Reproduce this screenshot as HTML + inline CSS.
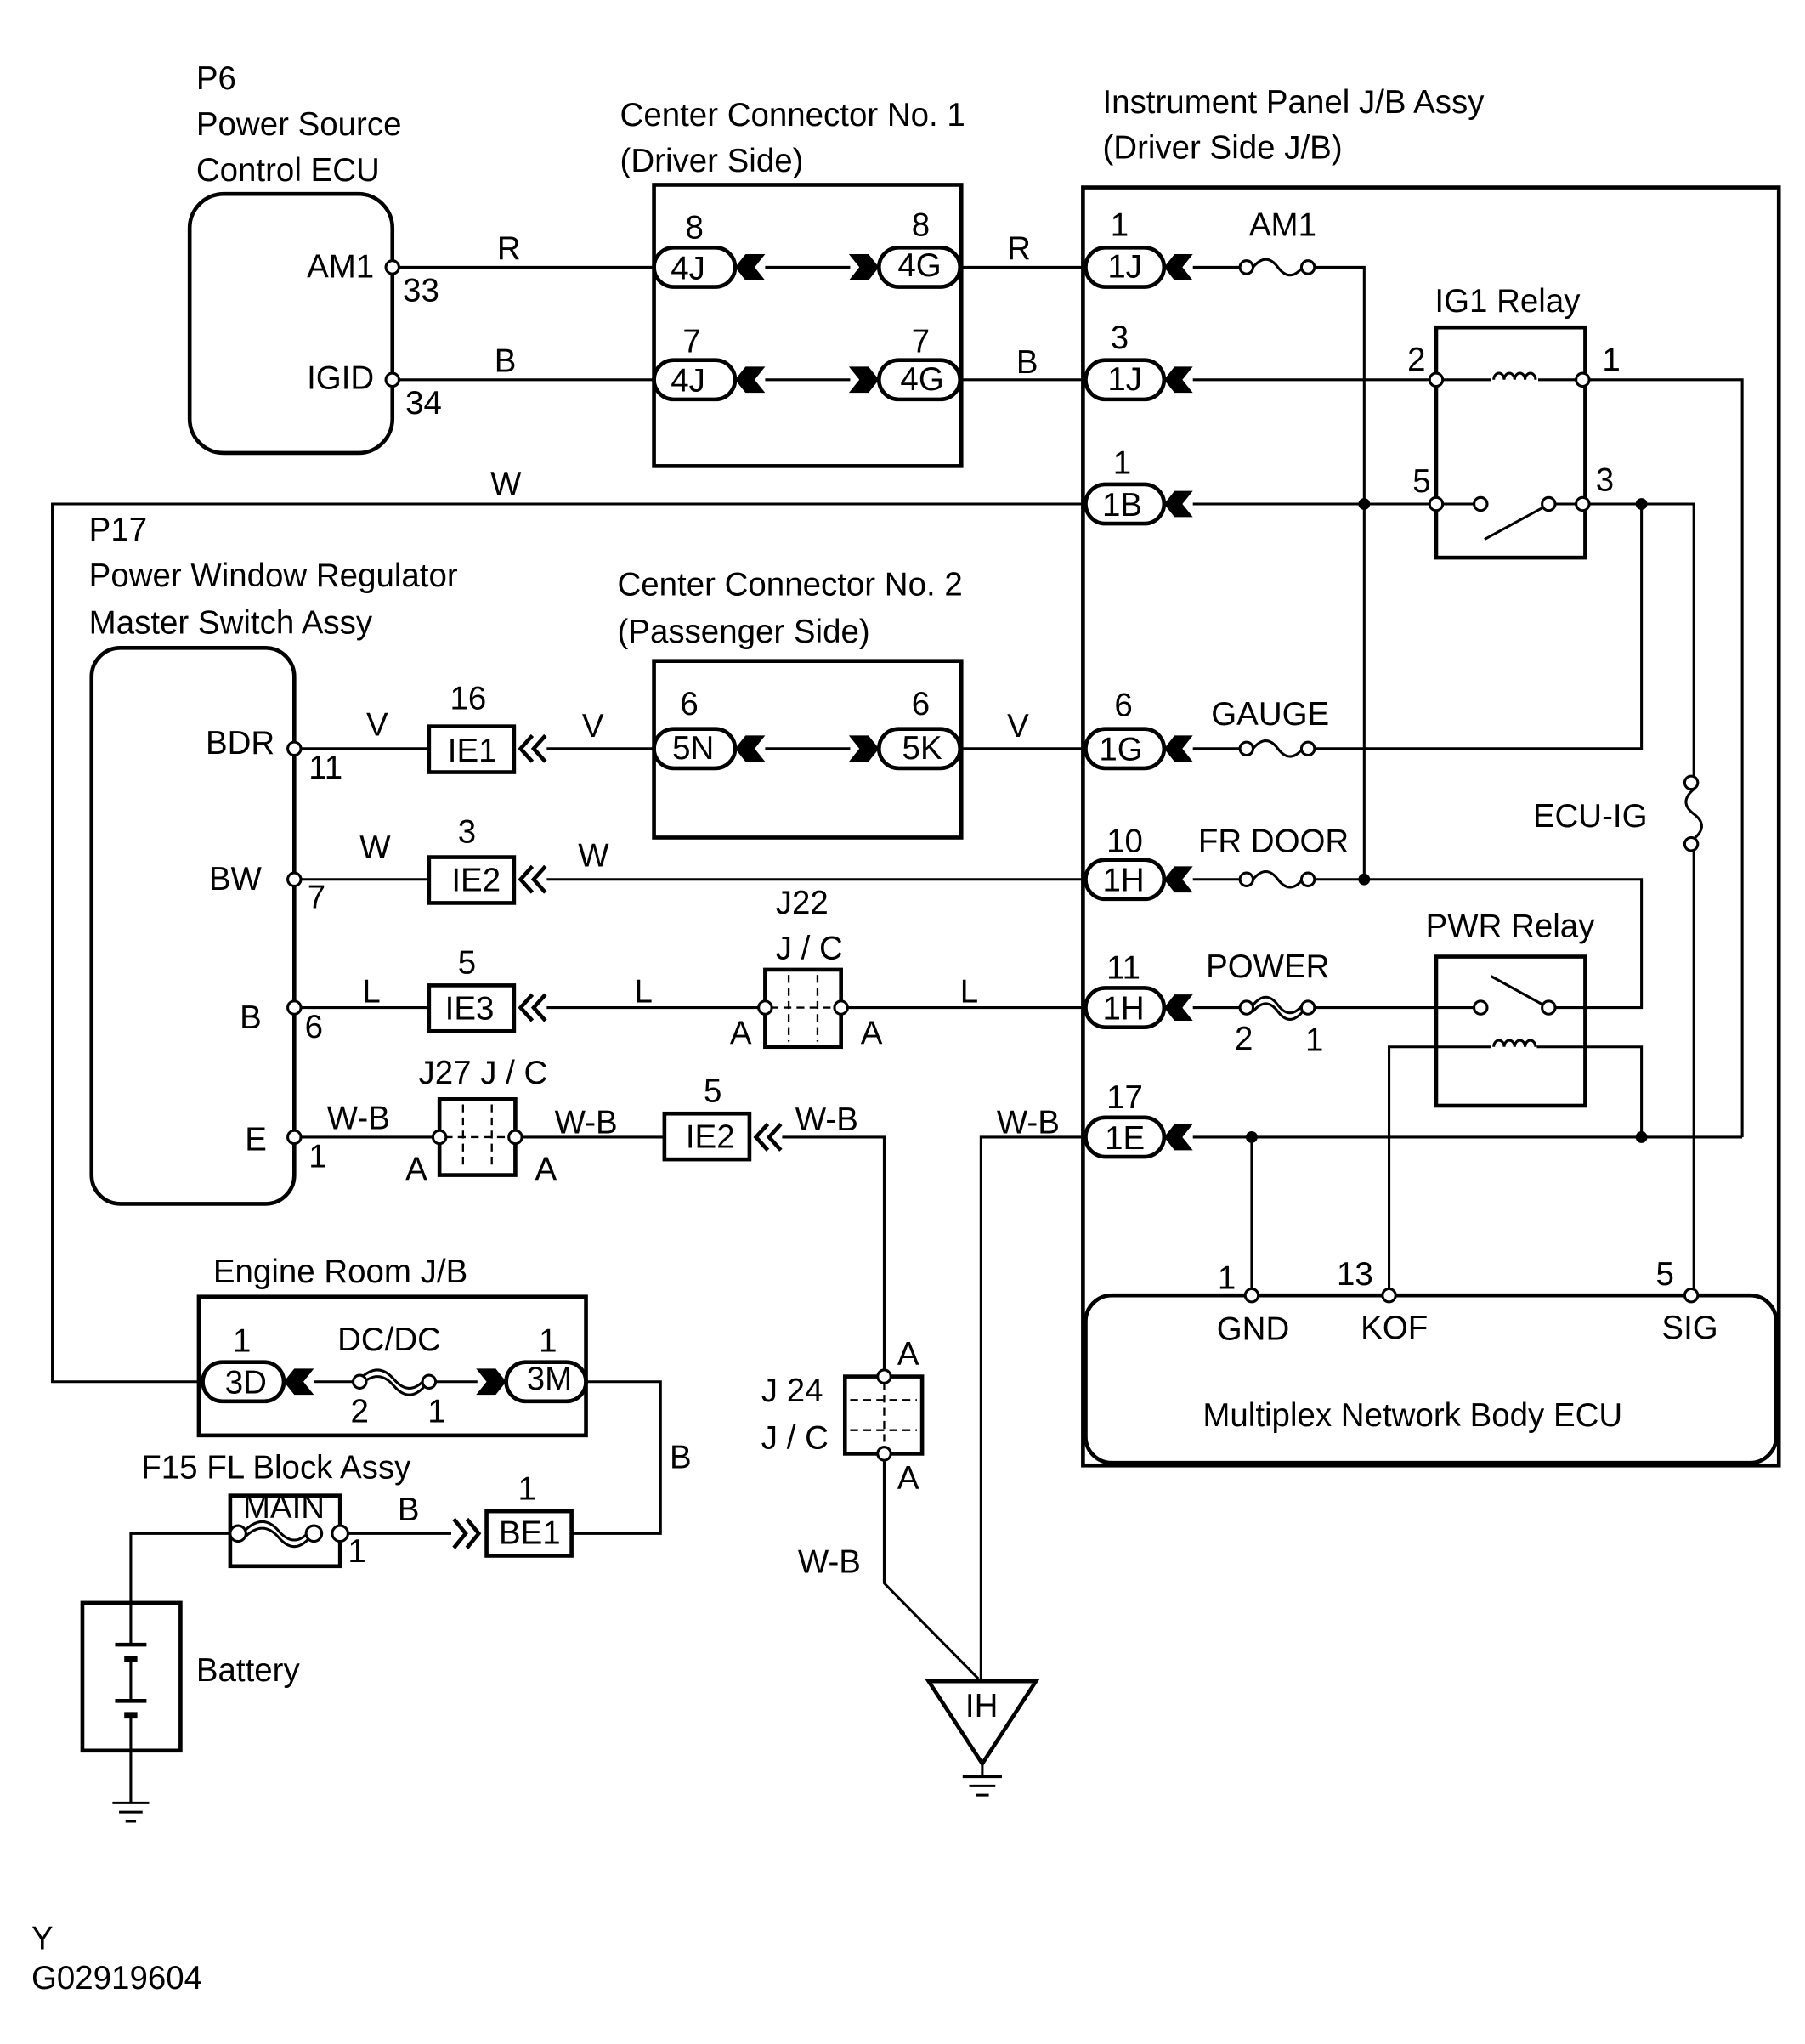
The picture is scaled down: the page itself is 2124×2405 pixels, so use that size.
<!DOCTYPE html>
<html><head><meta charset="utf-8"><style>
html,body{margin:0;padding:0;background:#fff;}
svg{display:block;}
text{font-family:"Liberation Sans",sans-serif;font-size:25px;fill:#000;}
.w{stroke:#000;stroke-width:2;fill:none;}
.b{stroke:#000;stroke-width:3;fill:none;}
.p{fill:#fff;stroke:#000;stroke-width:2;}
.f{fill:#000;stroke:none;}
.c{text-anchor:middle;}
.r{text-anchor:end;}
</style></head><body>
<svg width="2124" height="2405" viewBox="0 0 1380 1562" xmlns="http://www.w3.org/2000/svg">
<!-- P6 -->
<text x="150" y="68">P6</text><text x="150" y="103">Power Source</text><text x="150" y="138">Control ECU</text>
<rect x="145" y="148" width="155" height="198" rx="26" class="b"/>
<text x="286" y="212" class="r">AM1</text><text x="308" y="230">33</text>
<text x="286" y="297" class="r">IGID</text><text x="310" y="316">34</text>
<path class="w" d="M305,204H500M305,290H500"/>
<circle cx="300" cy="204" r="5" class="p"/><circle cx="300" cy="290" r="5" class="p"/>
<text x="380" y="198">R</text><text x="378" y="284">B</text>

<!-- CC1 -->
<text x="474" y="96">Center Connector No. 1</text><text x="474" y="131">(Driver Side)</text>
<rect x="500" y="141" width="235" height="215" class="b"/>
<path class="w" d="M585,204H650M585,290H650M735,204H830M735,290H830M735,572H830"/>
<text x="770" y="198">R</text><text x="777" y="285">B</text>

<!-- IP J/B -->
<text x="843" y="86">Instrument Panel J/B Assy</text><text x="843" y="121">(Driver Side J/B)</text>
<rect x="828" y="143" width="532" height="977" class="b"/>

<!-- wires in JB -->
<path class="w" d="M912,204H948M1005,204H1043V672"/>
<path class="w" d="M912,290H1098M1210,290H1332V869"/>
<path class="w" d="M155,1056H40V385H830M912,385H1098M1210,385H1295V598M1295,645V985"/>
<path class="w" d="M1255,385V572H1005M912,572H948"/>
<path class="w" d="M912,672H948M1005,672H1255V770H1184"/>
<path class="w" d="M912,770H948M1005,770H1127"/>
<path class="w" d="M830,869H750V1285M912,869H1332M957,869V985M1255,869V800H1175M1140,800H1062V985"/>
<circle cx="1043" cy="385" r="4.5" class="f"/><circle cx="1043" cy="672" r="4.5" class="f"/>
<circle cx="1255" cy="385" r="4.5" class="f"/><circle cx="957" cy="869" r="4.5" class="f"/><circle cx="1255" cy="869" r="4.5" class="f"/>

<!-- fuses -->
<g class="w">
<path d="M958,204q10,-12 19,0t19,0"/><path d="M958,572q10,-12 19,0t19,0"/><path d="M958,672q10,-12 19,0t19,0"/>
<path d="M958,768q10,-12 19,0t19,0M958,773q10,-12 19,0t19,0" stroke-width="2"/>
<path d="M1295,603q-12,10 0,19t0,19"/>
<path d="M275,1054q14,-14 26,0t24,0M275,1059q14,-14 26,0t24,0"/>
<path d="M187,1170q14,-14 26,0t24,0M187,1175q14,-14 26,0t24,0"/>
</g>
<g class="p">
<circle cx="953" cy="204" r="5"/><circle cx="1000" cy="204" r="5"/>
<circle cx="953" cy="572" r="5"/><circle cx="1000" cy="572" r="5"/>
<circle cx="953" cy="672" r="5"/><circle cx="1000" cy="672" r="5"/>
<circle cx="953" cy="770" r="5"/><circle cx="1000" cy="770" r="5"/>
<circle cx="1293" cy="598" r="5"/><circle cx="1293" cy="645" r="5"/>
</g>
<text x="955" y="180">AM1</text><text x="926" y="554">GAUGE</text><text x="916" y="651">FR DOOR</text><text x="922" y="747">POWER</text>
<text x="944" y="802" font-size="22">2</text><text x="998" y="803">1</text>
<text x="1172" y="632">ECU-IG</text>

<!-- IG1 relay -->
<text x="1097" y="238">IG1 Relay</text>
<rect x="1098" y="250" width="114" height="176" class="b"/>
<path class="w" d="M1098,290H1140M1176,290H1210M1098,385H1127M1189,385H1210M1135,412L1181,387"/>
<path class="w" d="M1142,290a4,5 0 1 1 8,0a4,5 0 1 1 8,0a4,5 0 1 1 8,0a4,5 0 1 1 8,0"/>
<g class="p"><circle cx="1098" cy="290" r="5"/><circle cx="1210" cy="290" r="5"/><circle cx="1098" cy="385" r="5"/><circle cx="1210" cy="385" r="5"/><circle cx="1132" cy="385" r="5"/><circle cx="1184" cy="385" r="5"/></g>
<text x="1076" y="283">2</text><text x="1225" y="283">1</text><text x="1080" y="376">5</text><text x="1220" y="375">3</text>

<!-- PWR relay -->
<text x="1090" y="716">PWR Relay</text>
<rect x="1098" y="731" width="114" height="114" class="b"/>
<path class="w" d="M1140,746L1180,768"/>
<path class="w" d="M1142,800a4,5 0 1 1 8,0a4,5 0 1 1 8,0a4,5 0 1 1 8,0a4,5 0 1 1 8,0"/>
<g class="p"><circle cx="1132" cy="770" r="5"/><circle cx="1184" cy="770" r="5"/></g>

<!-- ECU -->
<rect x="830" y="990" width="528" height="128" rx="20" class="b"/>
<g class="p"><circle cx="957" cy="990" r="5"/><circle cx="1062" cy="990" r="5"/><circle cx="1293" cy="990" r="5"/></g>
<text x="931" y="985">1</text><text x="1022" y="982">13</text><text x="1266" y="982">5</text>
<text x="958" y="1024" font-size="22" class="c">GND</text><text x="1066" y="1023" font-size="22" class="c">KOF</text><text x="1292" y="1023" font-size="22" class="c">SIG</text>
<text x="1080" y="1090" class="c">Multiplex Network Body ECU</text>

<!-- pills + chevrons -->
<g>
<rect x="500" y="189" width="62" height="30" rx="15" class="b"/><text x="526" y="213" class="c">4J</text>
<rect x="500" y="275" width="62" height="30" rx="15" class="b"/><text x="526" y="299" class="c">4J</text>
<rect x="672" y="189" width="62" height="30" rx="15" class="b"/><text x="703" y="211" class="c">4G</text>
<rect x="672" y="275" width="62" height="30" rx="15" class="b"/><text x="705" y="298" class="c">4G</text>
<rect x="500" y="557" width="62" height="30" rx="15" class="b"/><text x="530" y="580" class="c">5N</text>
<rect x="672" y="557" width="62" height="30" rx="15" class="b"/><text x="705" y="580" class="c">5K</text>
<rect x="830" y="189" width="60" height="30" rx="15" class="b"/><text x="860" y="212" class="c">1J</text>
<rect x="830" y="275" width="60" height="30" rx="15" class="b"/><text x="860" y="298" class="c">1J</text>
<rect x="830" y="370" width="60" height="30" rx="15" class="b"/><text x="858" y="394" class="c">1B</text>
<rect x="830" y="557" width="60" height="30" rx="15" class="b"/><text x="857" y="581" class="c">1G</text>
<rect x="830" y="657" width="60" height="30" rx="15" class="b"/><text x="859" y="681" class="c">1H</text>
<rect x="830" y="755" width="60" height="30" rx="15" class="b"/><text x="859" y="779" class="c">1H</text>
<rect x="830" y="854" width="60" height="30" rx="15" class="b"/><text x="860" y="878" class="c">1E</text>
<rect x="155" y="1041" width="62" height="30" rx="15" class="b"/><text x="188" y="1065" class="c">3D</text>
<rect x="387" y="1041" width="61" height="30" rx="15" class="b"/><text x="420" y="1062" class="c">3M</text>
</g>
<g class="f">
<polygon points="562,204 570,194 585,194 577,204 585,214 570,214"/>
<polygon points="562,290 570,280 585,280 577,290 585,300 570,300"/>
<polygon points="672,204 664,194 649,194 657,204 649,214 664,214"/>
<polygon points="672,290 664,280 649,280 657,290 649,300 664,300"/>
<polygon points="562,572 570,562 585,562 577,572 585,582 570,582"/>
<polygon points="672,572 664,562 649,562 657,572 649,582 664,582"/>
<polygon points="890,204 898,194 912,194 904,204 912,214 898,214"/>
<polygon points="890,290 898,280 912,280 904,290 912,300 898,300"/>
<polygon points="890,385 898,375 912,375 904,385 912,395 898,395"/>
<polygon points="890,572 898,562 912,562 904,572 912,582 898,582"/>
<polygon points="890,672 898,662 912,662 904,672 912,682 898,682"/>
<polygon points="890,770 898,760 912,760 904,770 912,780 898,780"/>
<polygon points="890,869 898,859 912,859 904,869 912,879 898,879"/>
<polygon points="217,1056 225,1046 240,1046 232,1056 240,1066 225,1066"/>
<polygon points="387,1056 379,1046 364,1046 372,1056 364,1066 379,1066"/>
</g>
<path class="w" d="M585,572H650M240,1056H270M330,1056H365"/>
<text x="524" y="182">8</text><text x="697" y="180">8</text><text x="522" y="269">7</text><text x="697" y="269">7</text>
<text x="520" y="546">6</text><text x="697" y="546">6</text>
<text x="849" y="180">1</text><text x="849" y="266">3</text><text x="851" y="362">1</text><text x="852" y="547">6</text>
<text x="846" y="651">10</text><text x="846" y="748">11</text><text x="846" y="847">17</text>
<text x="178" y="1033" font-size="22">1</text><text x="412" y="1033">1</text>

<!-- CC2 -->
<text x="472" y="455">Center Connector No. 2</text><text x="472" y="491">(Passenger Side)</text>
<rect x="500" y="505" width="235" height="135" class="b"/>

<!-- P17 -->
<text x="68" y="413">P17</text><text x="68" y="448">Power Window Regulator</text><text x="68" y="484">Master Switch Assy</text>
<rect x="70" y="495" width="155" height="425" rx="22" class="b"/>
<text x="210" y="576" class="r">BDR</text><text x="200" y="680" class="r">BW</text><text x="200" y="786" class="r">B</text><text x="204" y="879" class="r">E</text>
<text x="236" y="595">11</text><text x="235" y="694">7</text><text x="233" y="793">6</text><text x="236" y="892">1</text>
<path class="w" d="M230,572H328M230,672H328M230,770H328M230,869H336"/>
<g class="p"><circle cx="225" cy="572" r="5"/><circle cx="225" cy="672" r="5"/><circle cx="225" cy="770" r="5"/><circle cx="225" cy="869" r="5"/></g>
<text x="280" y="562">V</text><text x="275" y="656">W</text><text x="277" y="766">L</text><text x="250" y="863">W-B</text>
<g class="b">
<rect x="328" y="555" width="65" height="35"/><rect x="328" y="655" width="65" height="35"/><rect x="328" y="753" width="65" height="35"/>
<rect x="508" y="851" width="65" height="35"/><rect x="372" y="1155" width="65" height="34"/>
</g>
<text x="361" y="582" class="c">IE1</text><text x="364" y="681" class="c">IE2</text><text x="359" y="779" class="c">IE3</text><text x="543" y="877" class="c">IE2</text><text x="405" y="1180" class="c">BE1</text>
<text x="344" y="542">16</text><text x="350" y="644">3</text><text x="350" y="744">5</text><text x="538" y="842">5</text><text x="396" y="1146">1</text>
<g class="b">
<path d="M407,562L398,572L407,582M417,562L408,572L417,582"/>
<path d="M407,662L398,672L407,682M417,662L408,672L417,682"/>
<path d="M407,760L398,770L407,780M417,760L408,770L417,780"/>
<path d="M587,859L578,869L587,879M597,859L588,869L597,879"/>
<path d="M347,1161L356,1172L347,1183M357,1161L366,1172L357,1183"/>
</g>
<path class="w" d="M418,572H500M418,672H830M418,770H580M648,770H830M394,869H508M598,869H676V1047M676,1116V1210L748,1283"/>
<text x="445" y="563">V</text><text x="770" y="563">V</text><text x="442" y="662">W</text><text x="485" y="766">L</text><text x="734" y="766">L</text>
<text x="424" y="866">W-B</text><text x="608" y="864">W-B</text><text x="762" y="866">W-B</text><text x="610" y="1202">W-B</text>
<text x="375" y="378">W</text>

<!-- J22 -->
<text x="593" y="698">J22</text><text x="593" y="733">J / C</text>
<rect x="585" y="741" width="58" height="59" class="b"/>
<path d="M603,745V796M625,745V796M589,770H639" stroke="#000" stroke-width="1.5" stroke-dasharray="6,4" fill="none"/>
<g class="p"><circle cx="585" cy="770" r="5"/><circle cx="643" cy="770" r="5"/></g>
<text x="558" y="798">A</text><text x="658" y="798">A</text>
<!-- J27 -->
<text x="320" y="828">J27 J / C</text>
<rect x="336" y="840" width="58" height="58" class="b"/>
<path d="M354,844V894M376,844V894M340,869H390" stroke="#000" stroke-width="1.5" stroke-dasharray="6,4" fill="none"/>
<g class="p"><circle cx="336" cy="869" r="5"/><circle cx="394" cy="869" r="5"/></g>
<text x="310" y="902">A</text><text x="409" y="902">A</text>
<!-- J24 -->
<text x="582" y="1071">J 24</text><text x="582" y="1107">J / C</text>
<rect x="646" y="1052" width="59" height="59" class="b"/>
<path d="M650,1070H701M650,1093H701M676,1056V1107" stroke="#000" stroke-width="1.5" stroke-dasharray="6,4" fill="none"/>
<g class="p"><circle cx="676" cy="1052" r="5"/><circle cx="676" cy="1111" r="5"/></g>
<text x="686" y="1043">A</text><text x="686" y="1138">A</text>
<!-- IH ground -->
<polygon points="710,1285 792,1285 751,1348" class="b"/>
<text x="738" y="1312">IH</text>
<path class="w" d="M751,1348V1358M736,1358H766M741,1365H761M746,1372H756"/>

<!-- Engine room -->
<text x="163" y="980">Engine Room J/B</text>
<rect x="152" y="991" width="296" height="106" class="b"/>
<text x="258" y="1032">DC/DC</text>
<g class="p"><circle cx="275" cy="1056" r="5"/><circle cx="328" cy="1056" r="5"/></g>
<text x="268" y="1087">2</text><text x="327" y="1087" font-size="22">1</text>
<path class="w" d="M448,1056H505V1172H437"/>
<text x="512" y="1122">B</text>

<!-- F15 -->
<text x="108" y="1130">F15 FL Block Assy</text>
<rect x="176" y="1143" width="84" height="54" class="b"/>
<text x="217" y="1160" font-size="19" class="c">MAIN</text>
<path class="w" d="M100,1225V1172H176M264,1172H345"/>
<g class="p"><circle cx="182" cy="1172" r="6"/><circle cx="240" cy="1172" r="6"/><circle cx="260" cy="1172" r="6"/></g>
<text x="266" y="1194">1</text><text x="304" y="1162">B</text>
<!-- Battery -->
<rect x="63" y="1225" width="75" height="113" class="b"/>
<path class="w" d="M100,1225V1257M100,1268V1300M100,1311V1338M100,1338V1378M86,1378H114M91,1385H109M96,1392H104"/>
<path class="b" d="M88,1257H112M88,1300H112"/>
<path d="M95,1268H105M95,1311H105" stroke="#000" stroke-width="5"/>
<text x="150" y="1285">Battery</text>

<text x="24" y="1490" font-size="18">Y</text>
<text x="24" y="1520" font-size="14">G02919604</text>
</svg>
</body></html>
